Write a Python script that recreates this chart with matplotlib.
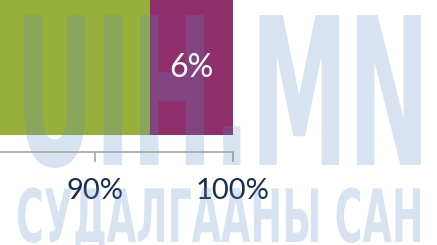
import matplotlib.pyplot as plt
import matplotlib.patheffects as pe
from matplotlib.transforms import Affine2D

# stacked share bar (only the right end is visible in the crop)
seg_values = [94, 6]
seg_colors = ['#97B03C', '#8E2F6C']
seg_labels = ['', '6%']
tick_vals = [90, 100]
tick_labels = ['90%', '100%']
watermark = ['UIH.MN', 'СУДАЛГААНЫ САН']


class Squeeze(pe.AbstractPathEffect):
    """squeeze text horizontally around its left edge (condensed look)"""
    def __init__(self, sx):
        super().__init__()
        self.sx = sx

    def draw_path(self, renderer, gc, tpath, affine, rgbFace=None):
        x0 = affine.get_matrix()[0, 2]
        affine = affine + Affine2D().translate(-x0, 0).scale(self.sx, 1).translate(x0, 0)
        renderer.draw_path(gc, tpath, affine, rgbFace)


W, H = 437, 245
fig = plt.figure(figsize=(W/100, H/100), dpi=100)
ax = fig.add_axes([0, (H-152)/H, 1, 152/H])

left = 0
for v, c, lab in zip(seg_values, seg_colors, seg_labels):
    ax.barh(0, v, left=left, height=1, color=c, zorder=1)
    if lab:
        ax.text(left + v/2, 0, lab, ha='center', va='center', color='white',
                fontsize=23, family='Lato', zorder=3)
    left += v

x_lo = 90 - 95/138*10
ax.set_xlim(x_lo, 90 + (W-95)/138*10)
ax.set_ylim(-0.5 - 17/135, 0.5)
ax.set_xticks(tick_vals)
ax.set_xticklabels(tick_labels, family='Lato', fontsize=21, color='#1B2D4F')
ax.tick_params(axis='x', length=7.5, width=1.2, color='#A5A5A5', pad=11)
ax.set_yticks([])
for s in ['top', 'left', 'right']:
    ax.spines[s].set_visible(False)
ax.spines['bottom'].set_color('#A5A5A5')
ax.spines['bottom'].set_linewidth(1.2)
ax.spines['bottom'].set_bounds(x_lo, 100)
ax.set_facecolor('none')

# faint watermark over the chart
wm_col = '#5B8AC4'
ax.text(15/W, 1 - 165/H, watermark[0], transform=fig.transFigure, ha='left',
        va='baseline', fontsize=148, fontweight='bold', family='DejaVu Sans',
        color=wm_col, alpha=0.24, zorder=2, path_effects=[Squeeze(0.477)])
ax.text(16/W, 1 - 242/H, watermark[1], transform=fig.transFigure, ha='left',
        va='baseline', fontsize=53, fontweight='bold', family='DejaVu Sans',
        color=wm_col, alpha=0.24, zorder=2, path_effects=[Squeeze(0.515)])

fig.savefig('out.png', dpi=100)
